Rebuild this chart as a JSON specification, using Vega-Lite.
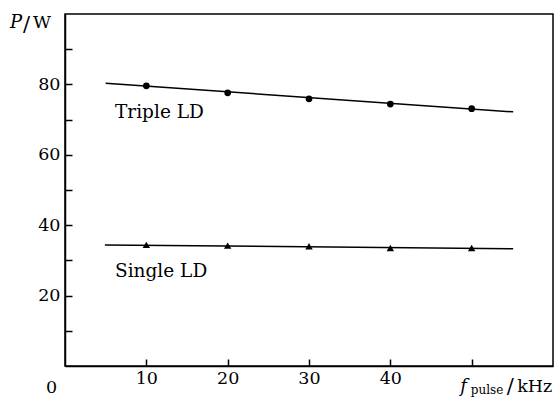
{
  "$schema": "https://vega.github.io/schema/vega-lite/v6.json",
  "width": 488,
  "height": 352,
  "autosize": {"type": "none"},
  "padding": {"left": 65, "top": 14, "right": 3, "bottom": 32},
  "background": "white",
  "config": {
    "view": {"stroke": "black", "strokeWidth": 1.5},
    "font": "DejaVu Serif",
    "axis": {
      "domainColor": "black", "domainWidth": 1.5,
      "tickColor": "black", "tickWidth": 1.5, "tickSize": -7,
      "labelFont": "DejaVu Serif", "labelFontSize": 17.5, "labelColor": "black",
      "grid": false, "title": null
    }
  },
  "datasets": {
    "fit": [
      {"f": 5.0, "P": 80.3, "series": "Triple LD"},
      {"f": 55.1, "P": 72.2, "series": "Triple LD"},
      {"f": 4.9, "P": 34.4, "series": "Single LD"},
      {"f": 55.1, "P": 33.3, "series": "Single LD"}
    ],
    "triple": [
      {"f": 10, "P": 79.6}, {"f": 20, "P": 77.6}, {"f": 30, "P": 75.9}, {"f": 40, "P": 74.4}, {"f": 50, "P": 73.1}
    ],
    "single": [
      {"f": 10, "P": 34.4}, {"f": 20, "P": 34.2}, {"f": 30, "P": 34.0}, {"f": 40, "P": 33.5}, {"f": 50, "P": 33.5}
    ],
    "labels": [
      {"f": 6.15, "P": 70.4, "text": "Triple LD"},
      {"f": 6.15, "P": 25.4, "text": "Single LD"}
    ],
    "regular": [
      {"f": -2.35, "P": -7.6, "text": "0"},
      {"f": 55.6, "P": -7.4, "text": "kHz"},
      {"f": -3.93, "P": 96.0, "text": "W"}
    ],
    "slash": [
      {"f": 54.3, "P": -7.8, "text": "/"},
      {"f": -5.17, "P": 95.2, "text": "/"}
    ],
    "italic": [
      {"f": 48.6, "P": -7.4, "text": "f"},
      {"f": -6.76, "P": 96.0, "text": "P"}
    ],
    "sub": [
      {"f": 49.9, "P": -8.0, "text": "pulse"}
    ]
  },
  "encoding": {
    "x": {"field": "f", "type": "quantitative",
      "scale": {"domain": [0, 60], "nice": false, "zero": false},
      "axis": {"values": [10, 20, 30, 40, 50], "labelExpr": "datum.value == 50 ? '' : datum.label", "labelPadding": 10}},
    "y": {"field": "P", "type": "quantitative",
      "scale": {"domain": [0, 100], "nice": false, "zero": false},
      "axis": {"values": [10, 20, 30, 40, 50, 60, 70, 80, 90], "labelExpr": "datum.value % 20 == 0 ? datum.label : ''", "labelPadding": 12}}
  },
  "layer": [
    {"data": {"name": "fit"}, "mark": {"type": "line", "color": "black", "strokeWidth": 1.5},
     "encoding": {"detail": {"field": "series"}}},
    {"data": {"name": "triple"}, "mark": {"type": "point", "shape": "circle", "filled": true, "color": "black", "size": 45, "opacity": 1}},
    {"data": {"name": "single"}, "mark": {"type": "point", "shape": "triangle-up", "filled": true, "color": "black", "size": 55, "opacity": 1}},
    {"data": {"name": "labels"}, "mark": {"type": "text", "align": "left", "baseline": "alphabetic", "fontSize": 18.5, "color": "black"},
     "encoding": {"text": {"field": "text"}}},
    {"data": {"name": "regular"}, "mark": {"type": "text", "align": "left", "baseline": "alphabetic", "fontSize": 17.5, "color": "black"},
     "encoding": {"text": {"field": "text"}}},
    {"data": {"name": "slash"}, "mark": {"type": "text", "align": "left", "baseline": "alphabetic", "fontSize": 21, "color": "black"},
     "encoding": {"text": {"field": "text"}}},
    {"data": {"name": "italic"}, "mark": {"type": "text", "align": "left", "baseline": "alphabetic", "fontSize": 18, "fontStyle": "italic", "color": "black"},
     "encoding": {"text": {"field": "text"}}},
    {"data": {"name": "sub"}, "mark": {"type": "text", "align": "left", "baseline": "alphabetic", "fontSize": 12, "color": "black"},
     "encoding": {"text": {"field": "text"}}}
  ]
}
